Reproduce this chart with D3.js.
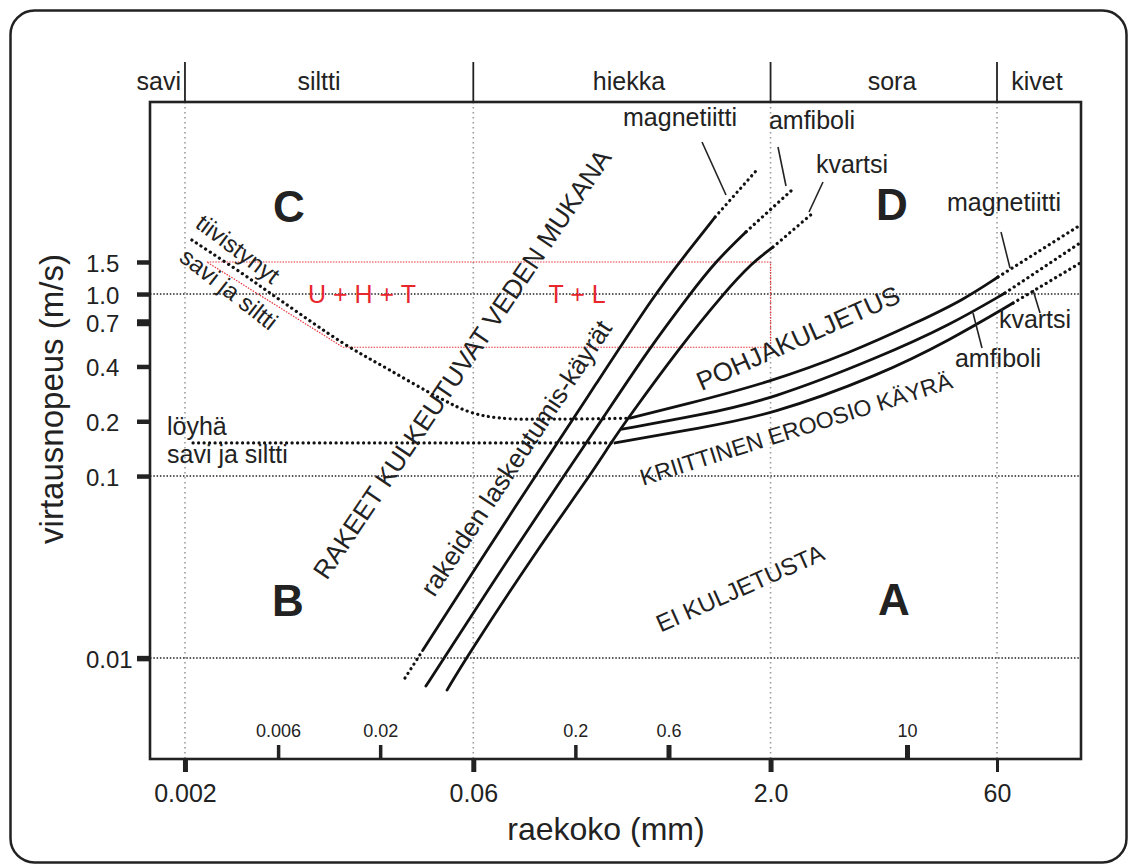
<!DOCTYPE html>
<html><head><meta charset="utf-8">
<script src="https://cdn.jsdelivr.net/npm/d3@7"></script>
<style>
body{margin:0;background:#fff;}
svg text{font-family:"Liberation Sans",Arial,Helvetica,sans-serif;fill:#222;}
</style></head><body>
<svg id="c" width="1131" height="866"></svg>
<script>
// ---------- data ----------
const sizeClasses = ["savi","siltti","hiekka","sora","kivet"];
const classBounds = [0.002, 0.06, 2, 60];
const yTicks = [0.01, 0.1, 0.2, 0.4, 0.7, 1.0, 1.5];
const yTickLabels = ["0.01","0.1","0.2","0.4","0.7","1.0","1.5"];
const xMajorTicks = [0.002, 0.06, 2, 60];
const xMajorLabels = ["0.002","0.06","2.0","60"];
const xMinorTicks = [0.006, 0.02, 0.2, 0.6, 10];
const xMinorLabels = ["0.006","0.02","0.2","0.6","10"];
const gridY = [0.01, 0.1, 1.0];

// settling curves  [grain size mm, velocity m/s]
const settleMagnetite     = [[0.033,0.011],[0.0705,0.0392],[0.124,0.0987],[0.255,0.32],[0.511,1.0],[0.712,1.58],[1.04,2.65]];
const settleMagnetiteLow  = [[0.0268,0.00777],[0.033,0.011]];
const settleMagnetiteHigh = [[1.04,2.65],[1.70,4.80]];
const settleAmphibole     = [[0.0343,0.00702],[0.0425,0.01],[0.097,0.0392],[0.173,0.0987],[0.277,0.208],[0.471,0.492],[0.773,1.0],[1.04,1.5],[1.50,2.20]];
const settleAmphiboleHigh = [[1.50,2.20],[2.575,3.73]];
const settleQuartz        = [[0.044,0.00667],[0.055,0.01],[0.127,0.0392],[0.235,0.0987],[0.304,0.152],[0.372,0.208],[0.687,0.511],[1.141,1.0],[1.625,1.5],[2.057,1.81]];
const settleQuartzHigh    = [[2.057,1.81],[3.30,2.79]];

// critical erosion curves
const erodeMagnetite      = [[0.381,0.208],[0.712,0.2455],[1.986,0.328],[5.10,0.474],[12.95,0.711],[30.5,0.927],[61.2,1.24]];
const erodeMagnetiteHigh  = [[61.2,1.24],[313,2.39]];
const erodeAmphibole      = [[0.347,0.181],[0.869,0.216],[1.986,0.262],[7.27,0.451],[23.5,0.676],[70.3,1.013]];
const erodeAmphiboleHigh  = [[70.3,1.013],[313,1.91]];
const erodeQuartz         = [[0.319,0.152],[0.869,0.184],[1.986,0.216],[7.27,0.359],[23.5,0.559],[82.5,0.892]];
const erodeQuartzHigh     = [[82.5,0.892],[313,1.48]];

// cohesive sediments
const compactedClay = [[0.00217,1.98],[0.00383,1.321],[0.00635,0.904],[0.0129,0.538],[0.0224,0.382],[0.0405,0.268],[0.0577,0.2247],[0.0822,0.2084],[0.167,0.2057],[0.381,0.208]];
const looseClay     = [[0.0022,0.152],[0.319,0.152]];

// red transport zone
const transportZone = [[0.00259,1.5],[2.0,1.5],[2.0,0.51],[0.0129,0.51]];

// ---------- layout ----------
const svg = d3.select("#c");
const F = {l:150, t:102, r:1081, b:759};
const x = d3.scaleLog().domain([0.001324, 10, 60, 318]).range([F.l, 907, 997, F.r]);
const y = d3.scaleLog().domain([0.00279, 11.35]).range([F.b, F.t]);
const smoothLine = d3.line().x(d=>x(d[0])).y(d=>y(d[1])).curve(d3.curveBasis);
const roundLine = d3.line().x(d=>x(d[0])).y(d=>y(d[1])).curve(d3.curveCatmullRom.alpha(0.5));
const ink = "#222";

// outer rounded border
svg.append("rect").attr("x",10.5).attr("y",10.5).attr("width",1116).attr("height",852)
  .attr("rx",24).attr("fill","none").attr("stroke",ink).attr("stroke-width",2.5);

// vertical gray dotted class lines
svg.append("g").selectAll("line").data(classBounds).join("line")
  .attr("x1",d=>x(d)).attr("x2",d=>x(d)).attr("y1",F.t).attr("y2",F.b)
  .attr("stroke","#9a9a9a").attr("stroke-width",1.6).attr("stroke-dasharray","1.6,3.4");

// horizontal dotted grid lines
svg.append("g").selectAll("line").data(gridY).join("line")
  .attr("x1",F.l).attr("x2",F.r).attr("y1",d=>y(d)).attr("y2",d=>y(d))
  .attr("stroke",ink).attr("stroke-width",1.5).attr("stroke-dasharray","1.5,1.8");

// red zone
svg.append("path").attr("d", d3.line().x(d=>x(d[0])).y(d=>y(d[1]))(transportZone)+"Z")
  .attr("fill","none").attr("stroke","#e8323a").attr("stroke-width",1.2).attr("stroke-dasharray","1.5,1.3");

// curves
function solid(data){ svg.append("path").attr("d",smoothLine(data)).attr("fill","none")
  .attr("stroke","#111").attr("stroke-width",2.8).attr("stroke-linecap","round"); }
function dotted(data){ svg.append("path").attr("d",roundLine(data)).attr("fill","none")
  .attr("stroke","#111").attr("stroke-width",3.2).attr("stroke-linecap","round").attr("stroke-dasharray","0.1,5.4"); }

dotted(compactedClay); dotted(looseClay);
solid(settleMagnetite); dotted(settleMagnetiteLow); dotted(settleMagnetiteHigh);
solid(settleAmphibole); dotted(settleAmphiboleHigh);
solid(settleQuartz); dotted(settleQuartzHigh);
solid(erodeMagnetite); dotted(erodeMagnetiteHigh);
solid(erodeAmphibole); dotted(erodeAmphiboleHigh);
solid(erodeQuartz); dotted(erodeQuartzHigh);

// plot frame
svg.append("rect").attr("x",F.l).attr("y",F.t).attr("width",F.r-F.l).attr("height",F.b-F.t)
  .attr("fill","none").attr("stroke",ink).attr("stroke-width",2.6);

// class separators & labels above frame
svg.append("g").selectAll("line").data(classBounds).join("line")
  .attr("x1",d=>x(d)).attr("x2",d=>x(d)).attr("y1",62).attr("y2",F.t)
  .attr("stroke",ink).attr("stroke-width",1.8);
const classLabelPos = [[181,"end"],[319,"middle"],[629,"middle"],[892,"middle"],[1037,"middle"]];
svg.append("g").selectAll("text").data(sizeClasses).join("text")
  .attr("x",(d,i)=>classLabelPos[i][0]).attr("y",90).attr("text-anchor",(d,i)=>classLabelPos[i][1])
  .attr("font-size",25).text(d=>d);

// y axis
const yAx = svg.append("g").attr("transform",`translate(${F.l},0)`)
  .call(d3.axisLeft(y).tickValues(yTicks).tickSize(13).tickFormat((d,i)=>yTickLabels[i]));
yAx.select(".domain").remove();
yAx.selectAll(".tick line").attr("stroke",ink)
  .attr("stroke-width",d=>d===0.7?7:(d===0.01?5.5:4.5));
yAx.selectAll(".tick text").attr("x",86-F.l).attr("text-anchor","start").attr("dy","0.38em")
  .attr("font-size",24).attr("fill",ink).attr("font-family","Liberation Sans, Arial, sans-serif");

// x axis major (below)
const xAx = svg.append("g").attr("transform",`translate(0,${F.b})`)
  .call(d3.axisBottom(x).tickValues(xMajorTicks).tickSize(13).tickFormat((d,i)=>xMajorLabels[i]));
xAx.select(".domain").remove();
xAx.selectAll(".tick line").attr("stroke",ink).attr("stroke-width",d=>d===60?3:5);
xAx.selectAll(".tick text").attr("y",43).attr("dy","0").attr("font-size",25)
  .attr("fill",ink).attr("font-family","Liberation Sans, Arial, sans-serif");

// x axis minor (inside)
const xMin = svg.append("g").attr("transform",`translate(0,${F.b})`)
  .call(d3.axisTop(x).tickValues(xMinorTicks).tickSize(14).tickFormat((d,i)=>xMinorLabels[i]));
xMin.select(".domain").remove();
xMin.selectAll(".tick line").attr("stroke",ink).attr("stroke-width",d=>(d===0.6||d===10)?5:3.5);
xMin.selectAll(".tick text").attr("y",-22).attr("dy","0").attr("font-size",18)
  .attr("fill",ink).attr("font-family","Liberation Sans, Arial, sans-serif");

// axis titles
svg.append("text").attr("x",606).attr("y",840).attr("text-anchor","middle").attr("font-size",32).text("raekoko (mm)");
svg.append("text").attr("transform","translate(63,399) rotate(-90)").attr("text-anchor","middle")
  .attr("font-size",33).text("virtausnopeus (m/s)");

// zone letters
[["C",289,222],["D",892,220],["B",288,616],["A",894,615]].forEach(([t,px,py])=>{
  svg.append("text").attr("x",px).attr("y",py).attr("text-anchor","middle")
    .attr("font-size",44).attr("font-weight","bold").attr("fill","#1a1a1a").text(t);
});

// rotated labels
function rot(t,cx,cy,ang,size){
  svg.append("text").attr("transform",`translate(${cx},${cy}) rotate(${ang})`)
    .attr("text-anchor","middle").attr("dy","0.35em").attr("font-size",size).text(t);
}
rot("RAKEET KULKEUTUVAT VEDEN MUKANA",462,364,-56,26);
rot("rakeiden laskeutumis-käyrät",516,458,-56.5,26);
rot("POHJAKULJETUS",798,338,-24,26);
rot("KRIITTINEN EROOSIO KÄYRÄ",796,429,-17.5,23);
rot("EI KULJETUSTA",740,588,-24,24);
rot("tiivistynyt",238,249,37,24);
rot("savi ja siltti",229,289,38,24);

// plain labels
[["löyhä",167,435,"start"],["savi ja siltti",167,463,"start"],
 ["magnetiitti",680,126,"middle"],["amfiboli",812,129,"middle"],["kvartsi",852,173,"middle"],
 ["magnetiitti",1004,211,"middle"],["kvartsi",1035,328,"middle"],["amfiboli",998,367,"middle"]]
 .forEach(([t,px,py,a])=>svg.append("text").attr("x",px).attr("y",py).attr("text-anchor",a).attr("font-size",25).text(t));

// red zone labels
[["U + H + T",362,303],["T + L",577,303]].forEach(([t,px,py])=>
  svg.append("text").attr("x",px).attr("y",py).attr("text-anchor","middle").attr("font-size",25)
    .style("fill","#e8262e").text(t));

// leader lines
[[702,142,726,195],[778,147,786,186],[823,182,809,212],[1001,232,1010,268],[1033,290,1040,313],[973,313,982,348]]
  .forEach(([a,b,c,d])=>svg.append("line").attr("x1",a).attr("y1",b).attr("x2",c).attr("y2",d)
    .attr("stroke",ink).attr("stroke-width",1.6));
</script>
</body></html>
